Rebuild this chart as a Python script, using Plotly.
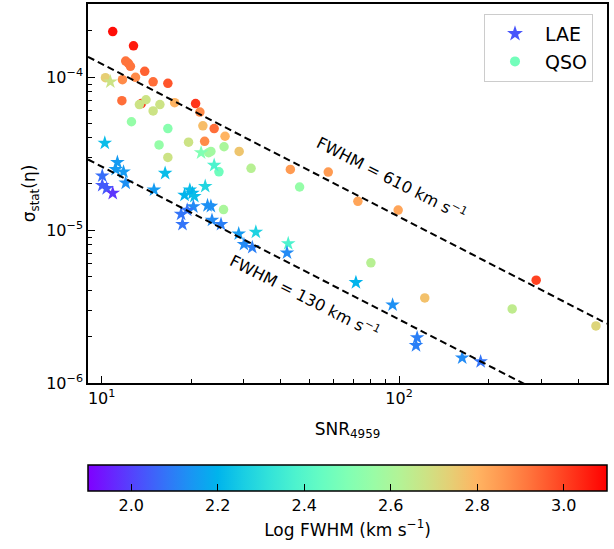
import numpy as np
import plotly.graph_objects as go

# ---------------- data ----------------
qso_snr = [10.9, 12.8, 12.05, 12.3, 12.5, 13.96, 10.3, 11.75, 13.0, 14.9, 16.7, 11.7,
           13.6, 14.1, 13.4, 14.9, 15.7, 17.6, 20.7, 12.6, 16.7, 21.4, 21.9, 23.9,
           22.2, 26.0, 19.6, 15.6, 22.9, 23.3, 25.8, 29.0, 16.7, 24.8, 31.8, 43.1,
           57.8, 46.3, 72.7, 99.3, 25.7, 80.4, 122, 289, 240, 459]
qso_sigma = [1.98e-4, 1.60e-4, 1.27e-4, 1.23e-4, 1.175e-4, 1.09e-4, 9.9e-5, 9.6e-5, 9.95e-5,
             9.3e-5, 9.1e-5, 7.0e-5, 6.7e-5, 7.1e-5, 6.6e-5, 6.0e-5, 6.6e-5, 6.8e-5, 6.7e-5,
             5.1e-5, 4.6e-5, 5.9e-5, 4.8e-5, 4.6e-5, 3.8e-5, 4.1e-5, 3.75e-5, 3.6e-5, 3.2e-5,
             3.26e-5, 3.5e-5, 3.26e-5, 2.98e-5, 2.4e-5, 2.53e-5, 2.49e-5, 2.39e-5, 1.91e-5,
             1.54e-5, 1.35e-5, 1.36e-5, 6.1e-6, 3.6e-6, 4.7e-6, 3.05e-6, 2.36e-6]
qso_logfwhm = [3.08, 3.06, 2.92, 2.92, 2.92, 2.95, 2.74, 2.88, 2.88, 2.93, 2.97, 2.93,
               3.02, 2.68, 2.68, 2.68, 2.68, 2.80, 3.02, 2.55, 2.52, 2.88, 2.78, 2.93,
               2.88, 2.80, 2.68, 2.55, 2.58, 2.58, 2.60, 2.76, 2.68, 2.46, 2.63, 2.85,
               2.85, 2.55, 2.83, 2.83, 2.60, 2.63, 2.77, 3.00, 2.65, 2.72]

lae_snr = [10.7, 10.25, 11.3, 11.15, 11.85, 10.05, 12.05, 10.05, 10.4, 10.9, 15.0, 16.35,
           21.6, 23.9, 22.3, 19.8, 20.2, 19.0, 20.5, 20.35, 22.7, 23.3, 19.4, 18.5, 18.7,
           23.5, 25.2, 28.9, 33.0, 30.1, 32.1, 42.4, 42.0, 71.6, 95.1, 115, 114, 163, 188]
lae_sigma = [9.3e-5, 3.7e-5, 2.77e-5, 2.49e-5, 2.4e-5, 2.26e-5, 2.03e-5, 1.96e-5, 1.87e-5,
             1.74e-5, 1.83e-5, 2.35e-5, 3.2e-5, 2.65e-5, 1.93e-5, 1.83e-5, 1.74e-5, 1.69e-5,
             1.66e-5, 1.42e-5, 1.445e-5, 1.43e-5, 1.35e-5, 1.27e-5, 1.09e-5, 1.16e-5, 1.09e-5,
             9.45e-6, 9.7e-6, 8.06e-6, 7.7e-6, 8.16e-6, 7.1e-6, 4.54e-6, 3.24e-6, 1.98e-6,
             1.76e-6, 1.46e-6, 1.38e-6]
lae_logfwhm = [2.68, 2.22, 2.15, 2.15, 2.15, 2.07, 2.13, 2.04, 2.04, 1.98, 2.15, 2.22,
               2.50, 2.38, 2.28, 2.22, 2.20, 2.20, 2.22, 2.12, 2.13, 2.13, 2.08, 2.08, 2.08,
               2.12, 2.10, 2.15, 2.27, 2.12, 2.10, 2.38, 2.12, 2.20, 2.13, 2.10, 2.10, 2.12, 2.08]

# model lines: sigma = coef * FWHM / SNR
line_fwhm = [610, 130]
line_coef = 2.0e-6
line_labels = ["FWHM = 610 km s<sup>−1</sup>", "FWHM = 130 km s<sup>−1</sup>"]
label_pos_snr = [94.3, 48.2]
label_pos_sigma = [2.17e-5, 3.65e-6]

x_tick_vals = [10, 100]
x_tick_text = ["10<sup>1</sup>", "10<sup>2</sup>"]
y_tick_vals = [1e-6, 1e-5, 1e-4]
y_tick_text = ["10<sup>−6</sup>", "10<sup>−5</sup>", "10<sup>−4</sup>"]
cbar_ticks = [2.0, 2.2, 2.4, 2.6, 2.8, 3.0]

CMIN, CMAX = 1.9, 3.1
XR = [9, 500]
YR = [1e-6, 3e-4]


# matplotlib "rainbow" colormap
def rainbow(t):
    r = min(1, abs(2 * t - 0.5))
    g = min(1, max(0, np.sin(np.pi * t)))
    b = min(1, max(0, np.cos(np.pi * t / 2)))
    return "rgb(%d,%d,%d)" % (round(r * 255), round(g * 255), round(b * 255))


cscale = [[t, rainbow(t)] for t in np.linspace(0, 1, 21)]


def cmap_val(v):
    return rainbow((v - CMIN) / (CMAX - CMIN))


FONT = "DejaVu Sans"
fig = go.Figure()

fig.add_trace(go.Scatter(
    x=qso_snr, y=qso_sigma, mode="markers", showlegend=False,
    marker=dict(symbol="circle", size=9.5, color=qso_logfwhm, coloraxis="coloraxis",
                line=dict(width=0)),
))
fig.add_trace(go.Scatter(
    x=lae_snr, y=lae_sigma, mode="markers", showlegend=False,
    marker=dict(symbol="star", size=11, color=lae_logfwhm, coloraxis="coloraxis",
                line=dict(width=0)),
))

line_x = np.logspace(np.log10(XR[0]), np.log10(XR[1]), 60)
for fw in line_fwhm:
    fig.add_trace(go.Scatter(
        x=line_x, y=line_coef * fw / line_x, mode="lines", showlegend=False,
        line=dict(color="black", width=2, dash="7px,4px"), hoverinfo="skip",
    ))

# legend entries
fig.add_trace(go.Scatter(x=[None], y=[None], mode="markers", name="LAE",
                         marker=dict(symbol="star", size=12, color=cmap_val(2.03))))
fig.add_trace(go.Scatter(x=[None], y=[None], mode="markers", name="QSO",
                         marker=dict(symbol="circle", size=10, color=cmap_val(2.47))))

for txt, sx, sy in zip(line_labels, label_pos_snr, label_pos_sigma):
    fig.add_annotation(x=np.log10(sx), y=np.log10(sy), xref="x", yref="y", text=txt,
                       showarrow=False, textangle=27, xanchor="center", yanchor="middle",
                       font=dict(family=FONT, size=16, color="black"))

axis_common = dict(
    showgrid=False, zeroline=False, showline=True, linecolor="black", linewidth=1.5,
    mirror=True, ticks="inside", ticklen=7, tickwidth=1.2, tickcolor="black",
    tickfont=dict(family=FONT, size=16, color="black"), automargin=False,
)

x_minor = [v * 10 ** d for d in (0, 1, 2) for v in range(2, 10) if XR[0] <= v * 10 ** d <= XR[1]]
y_minor = [v * 10.0 ** d for d in (-6, -5, -4) for v in range(2, 10) if YR[0] <= v * 10.0 ** d <= YR[1]]

fig.update_xaxes(
    type="log", range=[np.log10(XR[0]), np.log10(XR[1])],
    tickmode="array", tickvals=x_tick_vals, ticktext=x_tick_text,
    minor=dict(tickmode="array", tickvals=x_minor, ticks="inside", ticklen=4,
               tickwidth=1, tickcolor="black", showgrid=False),
    title=dict(text="SNR<sub>4959</sub>", font=dict(family=FONT, size=17, color="black"),
               standoff=16),
    **axis_common,
)
fig.update_yaxes(
    type="log", range=[np.log10(YR[0]), np.log10(YR[1])],
    tickmode="array", tickvals=y_tick_vals, ticktext=y_tick_text,
    minor=dict(tickmode="array", tickvals=y_minor, ticks="inside", ticklen=4,
               tickwidth=1, tickcolor="black", showgrid=False),
    title=dict(text="σ<sub>stat</sub>(η)", font=dict(family=FONT, size=17, color="black"),
               standoff=6),
    **axis_common,
)

fig.update_layout(
    width=614, height=549,
    margin=dict(l=88, r=7, t=4, b=166),
    paper_bgcolor="white", plot_bgcolor="white",
    font=dict(family=FONT, size=16, color="black"),
    coloraxis=dict(
        colorscale=cscale, cmin=CMIN, cmax=CMAX,
        colorbar=dict(
            orientation="h", x=0.5, xanchor="center", y=-0.216, yanchor="top",
            len=1.0, lenmode="fraction", thickness=26,
            outlinewidth=1.5, outlinecolor="black",
            ticks="inside", ticklen=7, tickwidth=1.2, tickcolor="black",
            tickvals=cbar_ticks, ticktext=["%.1f" % v for v in cbar_ticks],
            tickfont=dict(family=FONT, size=16, color="black"),
            title=dict(text="Log FWHM (km s<sup>−1</sup>)", side="bottom",
                       font=dict(family=FONT, size=17, color="black")),
            xpad=0, ypad=0,
        ),
    ),
    legend=dict(
        x=0.763, y=0.974, xanchor="left", yanchor="top",
        bordercolor="#cccccc", borderwidth=1, bgcolor="white",
        font=dict(family=FONT, size=19, color="black"),
        itemwidth=50, tracegroupgap=0,
    ),
)

fig.write_html("out.html", config={"displayModeBar": False},
               post_script="document.body.style.margin='0px';")
